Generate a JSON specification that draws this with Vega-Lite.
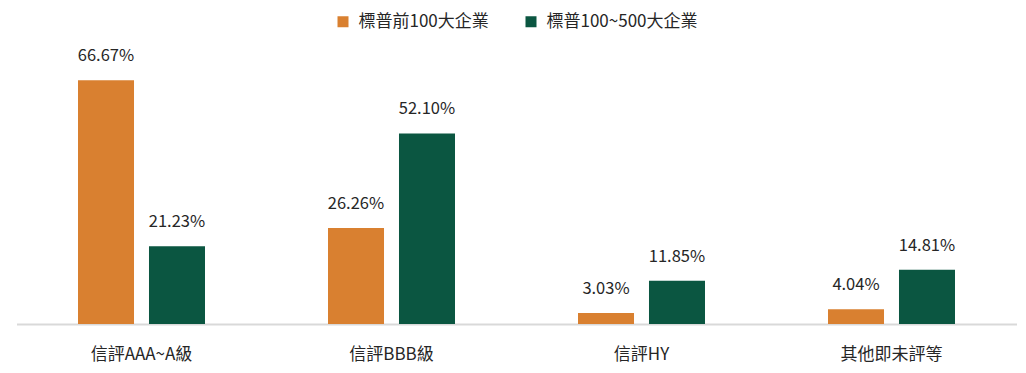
{
  "$schema": "https://vega.github.io/schema/vega-lite/v6.json",
  "width": 1000,
  "height": 256,
  "autosize": {"type": "none"},
  "padding": {"left": 16.5, "top": 68, "right": 9.5, "bottom": 49},
  "background": "white",
  "config": {"view": {"stroke": null}, "font": "Noto Sans CJK TC"},
  "data": {
    "values": [
      {"cat": "信評AAA~A級", "series": "標普前100大企業", "value": 66.67, "label": "66.67%"},
      {"cat": "信評AAA~A級", "series": "標普100~500大企業", "value": 21.23, "label": "21.23%"},
      {"cat": "信評BBB級", "series": "標普前100大企業", "value": 26.26, "label": "26.26%"},
      {"cat": "信評BBB級", "series": "標普100~500大企業", "value": 52.10, "label": "52.10%"},
      {"cat": "信評HY", "series": "標普前100大企業", "value": 3.03, "label": "3.03%"},
      {"cat": "信評HY", "series": "標普100~500大企業", "value": 11.85, "label": "11.85%"},
      {"cat": "其他即未評等", "series": "標普前100大企業", "value": 4.04, "label": "4.04%"},
      {"cat": "其他即未評等", "series": "標普100~500大企業", "value": 14.81, "label": "14.81%"}
    ]
  },
  "encoding": {
    "x": {
      "field": "cat", "type": "nominal", "sort": null,
      "scale": {"paddingInner": 0.492, "paddingOuter": 0.246},
      "axis": {
        "title": null, "labelAngle": 0, "ticks": false, "domainColor": "#d9d9d9", "domainWidth": 2,
        "labelFontSize": 17, "labelColor": "#262626", "labelPadding": 22, "labelFont": "Noto Sans CJK TC"
      }
    },
    "xOffset": {
      "field": "series", "type": "nominal", "sort": ["標普前100大企業", "標普100~500大企業"],
      "scale": {"paddingInner": 0.211, "paddingOuter": 0}
    },
    "y": {
      "field": "value", "type": "quantitative",
      "scale": {"domain": [0, 70]},
      "axis": null
    }
  },
  "layer": [
    {
      "mark": {"type": "bar"},
      "encoding": {
        "color": {
          "field": "series", "type": "nominal", "sort": ["標普前100大企業", "標普100~500大企業"],
          "scale": {"domain": ["標普前100大企業", "標普100~500大企業"], "range": ["#D98030", "#0B5641"]},
          "legend": {
            "title": null, "orient": "none", "direction": "horizontal",
            "legendX": 318, "legendY": -55, "padding": 0,
            "symbolType": "square", "symbolSize": 121, "symbolStrokeWidth": 0,
            "labelFontSize": 17, "labelColor": "#262626", "labelOffset": 7, "columnPadding": 33,
            "labelFont": "Noto Sans CJK TC"
          }
        }
      }
    },
    {
      "mark": {"type": "text", "baseline": "alphabetic", "dy": -19, "fontSize": 16.5},
      "encoding": {"text": {"field": "label"}, "color": {"value": "#262626"}}
    }
  ]
}
